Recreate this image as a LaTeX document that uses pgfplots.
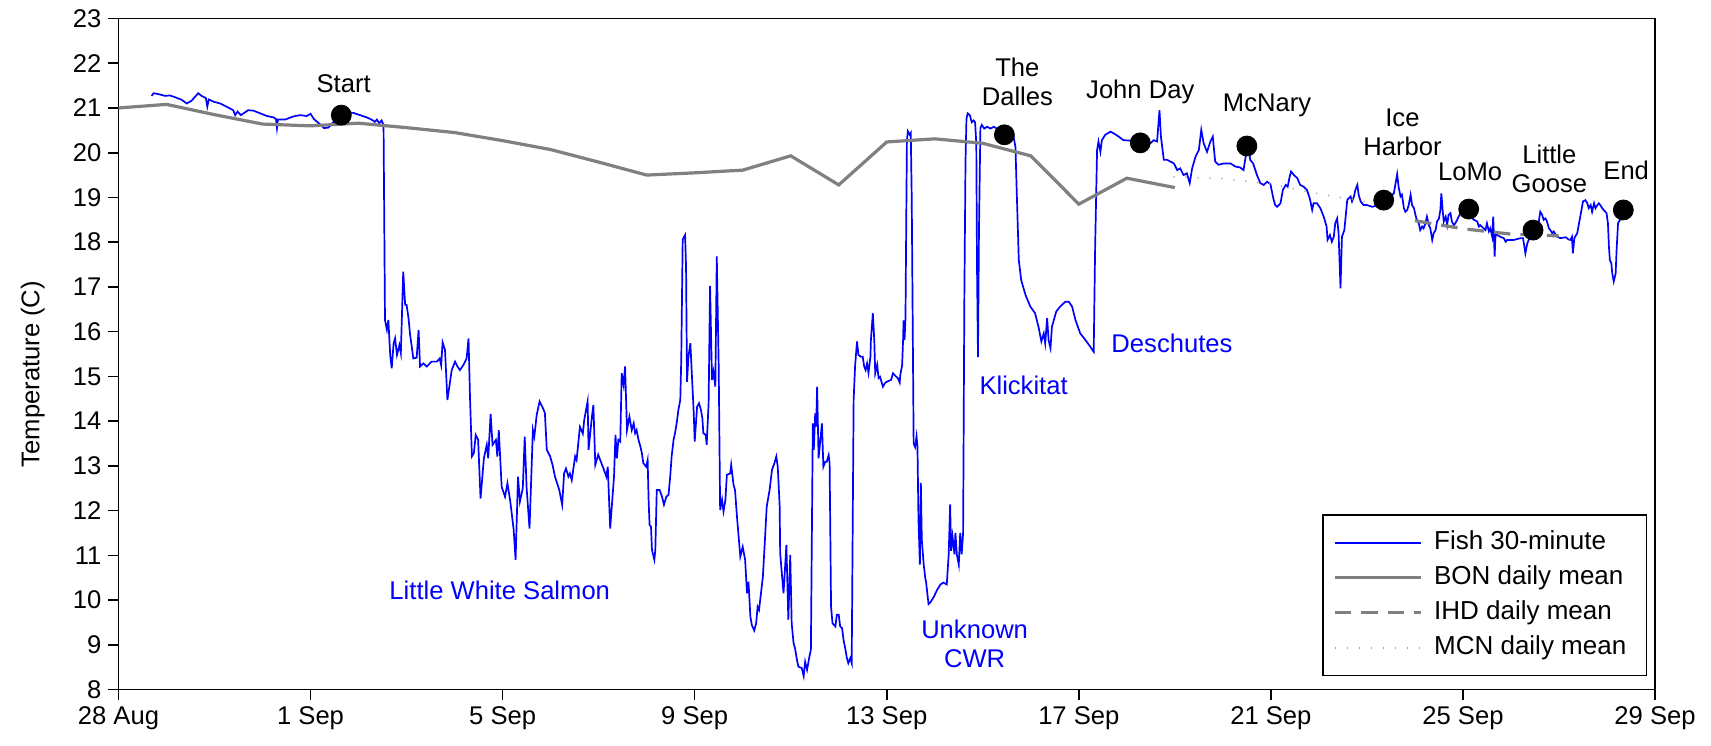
\documentclass[border=0pt]{standalone}
\usepackage{pgfplots}
\pgfplotsset{compat=1.18}
\usepackage{fontspec}
\setmainfont{Liberation Sans}
\newcommand\f{\fontsize{12.8pt}{14.5pt}\selectfont}
\definecolor{fishblue}{RGB}{0,0,255}
\definecolor{bongray}{RGB}{128,128,128}
\definecolor{mcngray}{RGB}{165,165,165}
\begin{document}
\begin{tikzpicture}
\begin{axis}[
  scale only axis, width=768.25pt, height=335.5pt,
  xmin=0, xmax=32, ymin=8, ymax=23,
  xtick={0,4,...,32},
  xticklabels={28 Aug,1 Sep,5 Sep,9 Sep,13 Sep,17 Sep,21 Sep,25 Sep,29 Sep},
  ytick={8,9,...,23},
  tick pos=left, tick align=outside, major tick length=5pt,
  axis line style={line width=0.9pt},
  every tick/.style={black, line width=0.8pt},
  tick label style={font=\f},
  /pgf/number format/assume math mode=true,
  ylabel={Temperature (C)},
  ylabel style={font=\f, at={(axis description cs:-0.0558,0.47)}, anchor=center},
  legend style={at={(axis description cs:0.9948,0.0195)}, anchor=south east, draw=black, line width=0.7pt, font=\fontsize{13pt}{14.5pt}\selectfont, inner xsep=5pt, inner ysep=8pt, row sep=5.6pt, column sep=1pt, nodes={inner xsep=5pt, inner ysep=0pt, text height=9.2pt, text depth=2.7pt}},
  legend cell align=left,
  legend image code/.code={\draw[#1] (0pt,0pt) -- (43pt,0pt);},
]
\addplot[fishblue, line width=0.85pt] table[x=d, y=t] {
d t
0.69 21.27
0.73 21.33
0.83 21.31
0.97 21.27
1.07 21.28
1.18 21.24
1.32 21.18
1.42 21.10
1.52 21.16
1.66 21.33
1.73 21.27
1.82 21.22
1.85 21.03
1.88 21.19
1.98 21.14
2.12 21.10
2.25 21.03
2.39 20.95
2.43 20.84
2.48 20.92
2.55 20.84
2.70 20.95
2.81 20.94
2.95 20.88
3.09 20.82
3.23 20.79
3.28 20.75
3.30 20.55
3.32 20.74
3.47 20.74
3.64 20.81
3.78 20.84
3.92 20.82
4.00 20.87
4.07 20.75
4.16 20.67
4.28 20.55
4.37 20.56
4.48 20.69
4.55 20.84
4.70 20.90
4.89 20.89
5.03 20.84
5.17 20.79
5.27 20.74
5.34 20.69
5.38 20.74
5.43 20.66
5.48 20.72
5.52 20.62
5.55 16.26
5.59 16.04
5.62 16.26
5.66 15.46
5.69 15.18
5.73 15.74
5.76 15.85
5.80 15.48
5.85 15.70
5.88 15.52
5.93 17.34
5.97 16.60
6.00 16.60
6.04 16.30
6.07 15.96
6.14 15.40
6.21 15.42
6.25 16.04
6.28 15.22
6.35 15.29
6.42 15.22
6.52 15.33
6.63 15.33
6.69 15.40
6.72 15.25
6.75 15.76
6.80 15.59
6.85 14.47
6.89 14.77
6.94 15.14
7.01 15.33
7.06 15.22
7.11 15.14
7.18 15.25
7.25 15.40
7.29 15.85
7.32 14.55
7.36 13.21
7.40 13.28
7.44 13.69
7.49 13.58
7.54 12.27
7.61 13.17
7.67 13.47
7.70 13.17
7.75 14.16
7.79 13.47
7.86 13.58
7.89 13.21
7.92 13.80
7.98 12.53
8.05 12.31
8.10 12.61
8.16 12.20
8.23 11.57
8.27 10.90
8.32 12.76
8.36 12.20
8.42 12.50
8.46 13.65
8.50 12.50
8.56 11.60
8.63 13.80
8.66 13.65
8.71 14.14
8.77 14.44
8.84 14.29
8.88 14.18
8.92 13.36
8.99 13.21
9.04 13.02
9.09 12.76
9.18 12.46
9.24 12.13
9.28 12.83
9.32 12.94
9.37 12.76
9.40 12.83
9.44 12.68
9.51 13.21
9.54 13.13
9.61 13.87
9.67 13.72
9.70 14.03
9.77 14.44
9.79 13.36
9.86 14.10
9.89 14.36
9.93 13.02
9.99 13.25
10.10 12.94
10.16 12.76
10.19 12.98
10.24 11.60
10.32 12.76
10.35 13.69
10.38 13.17
10.41 13.58
10.45 13.54
10.48 15.07
10.52 14.81
10.55 15.22
10.59 13.80
10.64 14.10
10.69 13.80
10.73 13.95
10.76 13.73
10.79 13.80
10.83 13.58
10.87 13.43
10.90 13.28
10.93 13.06
10.99 12.98
11.02 13.13
11.04 12.24
11.06 11.68
11.09 11.64
11.11 11.12
11.16 10.90
11.18 11.12
11.21 12.46
11.27 12.46
11.32 12.31
11.36 12.13
11.41 12.31
11.455 12.35
11.49 12.76
11.52 13.21
11.56 13.58
11.59 13.73
11.63 13.99
11.66 14.25
11.70 14.47
11.72 15.37
11.75 18.06
11.80 18.16
11.82 17.45
11.84 14.88
11.87 15.44
11.91 15.74
11.94 15.07
11.98 14.18
12.00 13.54
12.05 14.32
12.09 14.40
12.13 14.25
12.16 14.06
12.18 13.73
12.23 13.69
12.25 13.47
12.29 14.40
12.32 17.02
12.36 14.92
12.39 15.11
12.43 14.77
12.46 17.68
12.50 15.22
12.53 12.01
12.57 12.24
12.60 11.98
12.64 12.24
12.67 12.80
12.74 12.83
12.76 13.02
12.81 12.57
12.84 12.46
12.88 11.87
12.95 10.97
13.00 11.19
13.05 10.90
13.09 10.15
13.12 10.41
13.16 9.63
13.19 9.44
13.24 9.32
13.28 9.48
13.31 9.85
13.34 9.78
13.42 10.52
13.47 11.49
13.50 12.09
13.56 12.46
13.61 12.91
13.66 13.06
13.70 13.21
13.73 12.98
13.77 12.09
13.78 11.05
13.85 10.15
13.91 11.23
13.95 9.56
13.99 11.01
14.02 9.48
14.06 9.03
14.09 8.92
14.13 8.66
14.16 8.51
14.23 8.48
14.27 8.30
14.30 8.62
14.34 8.44
14.39 8.74
14.42 8.89
14.46 13.95
14.48 13.36
14.51 14.17
14.53 13.88
14.55 14.77
14.58 13.17
14.60 13.39
14.65 13.95
14.68 12.98
14.72 13.09
14.75 13.09
14.79 13.24
14.81 13.06
14.84 9.85
14.87 9.48
14.93 9.41
14.96 9.67
15.00 9.67
15.03 9.41
15.07 9.37
15.10 9.11
15.14 8.89
15.17 8.70
15.20 8.59
15.24 8.70
15.27 8.59
15.31 14.47
15.34 15.22
15.38 15.78
15.41 15.48
15.46 15.44
15.50 15.44
15.53 15.22
15.56 15.14
15.59 15.29
15.62 15.08
15.66 15.44
15.67 15.81
15.71 16.41
15.74 15.81
15.76 15.07
15.80 15.26
15.83 14.96
15.86 14.99
15.92 14.77
15.97 14.86
16.04 14.90
16.09 14.92
16.13 15.07
16.18 15.01
16.23 14.96
16.27 14.86
16.28 15.02
16.32 15.25
16.34 15.81
16.35 16.25
16.37 15.81
16.39 16.29
16.41 19.01
16.42 20.28
16.44 20.48
16.48 20.40
16.50 20.44
16.52 19.01
16.56 13.50
16.59 13.42
16.62 13.66
16.64 13.42
16.66 11.82
16.69 10.79
16.71 12.62
16.73 11.34
16.77 10.79
16.80 10.51
16.82 10.39
16.87 9.91
16.91 9.95
16.98 10.07
17.05 10.23
17.12 10.35
17.18 10.39
17.25 10.35
17.29 11.02
17.32 12.14
17.34 11.10
17.37 11.42
17.41 11.02
17.43 11.50
17.46 11.02
17.50 10.79
17.53 11.50
17.56 11.02
17.59 11.50
17.60 13.42
17.615 16.61
17.64 19.81
17.66 20.76
17.685 20.88
17.73 20.84
17.77 20.68
17.81 20.72
17.84 20.68
17.865 20.20
17.88 17.41
17.90 15.43
17.92 18.21
17.95 20.55
17.98 20.62
18.03 20.54
18.09 20.58
18.16 20.54
18.23 20.58
18.33 20.51
18.45 20.45
18.57 20.43
18.64 20.36
18.68 20.13
18.71 19.02
18.75 17.60
18.80 17.15
18.89 16.82
18.99 16.56
19.09 16.41
19.16 16.11
19.22 15.78
19.27 15.96
19.30 15.74
19.34 16.30
19.37 15.81
19.41 15.63
19.44 16.11
19.48 16.26
19.53 16.45
19.61 16.56
19.72 16.67
19.79 16.67
19.86 16.56
19.93 16.26
20.03 15.96
20.14 15.81
20.24 15.66
20.31 15.55
20.34 17.90
20.38 20.06
20.41 20.25
20.45 20.02
20.48 20.28
20.55 20.40
20.66 20.47
20.73 20.43
20.83 20.36
20.93 20.28
21.07 20.27
21.28 20.22
21.49 20.21
21.56 20.28
21.63 20.25
21.68 20.95
21.71 20.36
21.77 19.84
21.84 19.84
21.91 19.80
21.98 19.76
22.05 19.61
22.11 19.65
22.18 19.50
22.25 19.54
22.31 19.32
22.36 19.65
22.43 19.91
22.50 20.06
22.55 20.51
22.60 20.21
22.67 20.02
22.74 20.25
22.79 20.36
22.84 19.80
22.91 19.73
23.02 19.76
23.16 19.76
23.26 19.69
23.36 19.67
23.43 19.61
23.49 20.02
23.54 20.06
23.57 19.84
23.63 19.76
23.71 19.50
23.78 19.32
23.85 19.28
23.92 19.35
23.99 19.30
24.05 18.98
24.09 18.83
24.13 18.79
24.20 18.87
24.25 19.17
24.31 19.28
24.35 19.24
24.39 19.46
24.42 19.58
24.48 19.50
24.55 19.43
24.61 19.28
24.68 19.24
24.75 19.17
24.81 18.98
24.86 18.72
24.89 18.87
24.96 18.87
25.03 18.76
25.10 18.57
25.16 18.35
25.18 18.05
25.23 18.16
25.27 18.01
25.31 18.12
25.34 18.42
25.38 18.53
25.41 18.20
25.45 16.97
25.48 18.12
25.53 18.27
25.59 18.94
25.62 18.98
25.66 19.02
25.69 18.91
25.73 19.02
25.76 19.17
25.80 19.28
25.83 19.05
25.87 18.91
25.93 18.83
26.00 18.83
26.11 18.79
26.18 18.81
26.28 18.85
26.35 18.94
26.49 19.02
26.56 19.09
26.63 19.52
26.66 19.24
26.70 19.02
26.73 19.06
26.77 18.76
26.80 18.68
26.84 18.72
26.87 18.83
26.91 19.06
26.94 18.83
26.98 18.76
27.01 18.61
27.04 18.50
27.08 18.42
27.11 18.27
27.15 18.35
27.18 18.31
27.22 18.42
27.25 18.57
27.29 18.38
27.32 18.31
27.36 18.05
27.39 18.20
27.43 18.27
27.46 18.46
27.50 18.53
27.53 18.72
27.55 19.09
27.58 18.68
27.60 18.46
27.64 18.57
27.67 18.38
27.70 18.61
27.74 18.65
27.77 18.46
27.81 18.38
27.84 18.42
27.88 18.50
27.91 18.57
27.95 18.65
27.98 18.72
28.05 18.68
28.16 18.57
28.23 18.50
28.30 18.46
28.33 18.35
28.36 18.38
28.43 18.31
28.47 18.27
28.50 18.42
28.54 18.24
28.57 18.31
28.61 18.12
28.63 18.57
28.66 17.68
28.68 18.20
28.71 18.16
28.78 18.12
28.85 18.09
28.89 18.01
28.92 18.05
29.06 18.05
29.20 18.09
29.25 18.09
29.28 17.90
29.30 17.75
29.34 17.97
29.37 18.05
29.44 18.20
29.51 18.27
29.58 18.46
29.61 18.68
29.65 18.61
29.68 18.50
29.72 18.53
29.75 18.46
29.79 18.31
29.82 18.27
29.86 18.20
29.89 18.24
29.96 18.12
30.03 18.09
30.14 18.11
30.20 18.06
30.24 18.05
30.27 18.12
30.29 17.75
30.32 18.09
30.38 18.20
30.41 18.38
30.45 18.61
30.50 18.91
30.55 18.94
30.59 18.87
30.62 18.76
30.66 18.83
30.69 18.68
30.73 18.87
30.76 18.76
30.80 18.83
30.83 18.87
30.86 18.83
30.90 18.76
30.93 18.72
30.99 18.65
31.02 18.42
31.04 17.90
31.06 17.60
31.09 17.53
31.11 17.30
31.14 17.12
31.18 17.30
31.20 17.83
31.23 18.42
31.27 18.50
31.34 18.53
};
\addlegendentry{Fish 30-minute}
\addplot[bongray, line width=1.6pt] table[x=d, y=t] {
d t
0 21.00
1 21.08
2 20.85
3 20.64
4 20.60
5 20.66
6 20.56
7 20.45
8 20.27
9 20.07
10 19.79
11 19.50
12 19.55
13 19.61
14 19.93
15 19.28
16 20.24
17 20.31
18 20.21
19 19.93
20 18.85
21 19.43
22 19.22
};
\addlegendentry{BON daily mean}
\addplot[bongray, line width=1.6pt, dash pattern=on 8.3pt off 5pt] table[x=d, y=t] {
d t
27 18.48
28 18.30
29 18.18
30 18.14
};
\addlegendentry{IHD daily mean}
\addplot[mcngray, line width=0.8pt, dash pattern=on 0.6pt off 5.4pt] table[x=d, y=t] {
d t
21.97 19.46
23 19.42
24 19.30
25 19.08
26 18.90
26.6 18.84
};
\addlegendentry{MCN daily mean}
\addplot[only marks, mark=*, mark size=5pt, black, forget plot] table[x=d, y=t] {
d t
4.64 20.84
18.45 20.40
21.28 20.22
23.50 20.15
26.35 18.94
28.12 18.74
29.46 18.27
31.34 18.72
};
\node[font=\f, align=center] at (axis cs:4.69,21.54) {Start};
\node[font=\f, align=center] at (axis cs:18.72,21.58) {The\\Dalles};
\node[font=\f, align=center] at (axis cs:21.28,21.35) {John Day};
\node[font=\f, align=center] at (axis cs:23.92,21.06) {McNary};
\node[font=\f, align=center] at (axis cs:26.74,20.45) {Ice\\Harbor};
\node[font=\f, align=center] at (axis cs:28.15,19.58) {LoMo};
\node[font=\f, align=center] at (axis cs:29.80,19.63) {Little\\Goose};
\node[font=\f, align=center] at (axis cs:31.40,19.60) {End};
\node[font=\f, text=fishblue, align=center] at (axis cs:7.94,10.22) {Little White Salmon};
\node[font=\f, text=fishblue, align=center] at (axis cs:17.83,9.01) {Unknown\\CWR};
\node[font=\f, text=fishblue, align=center] at (axis cs:18.85,14.81) {Klickitat};
\node[font=\f, text=fishblue, align=center] at (axis cs:21.94,15.74) {Deschutes};
\end{axis}
\pgfresetboundingbox
\path ([xshift=-59.25pt,yshift=-28.2pt]current axis.south west) rectangle ([xshift=28pt,yshift=9.25pt]current axis.north east);
\end{tikzpicture}
\end{document}
